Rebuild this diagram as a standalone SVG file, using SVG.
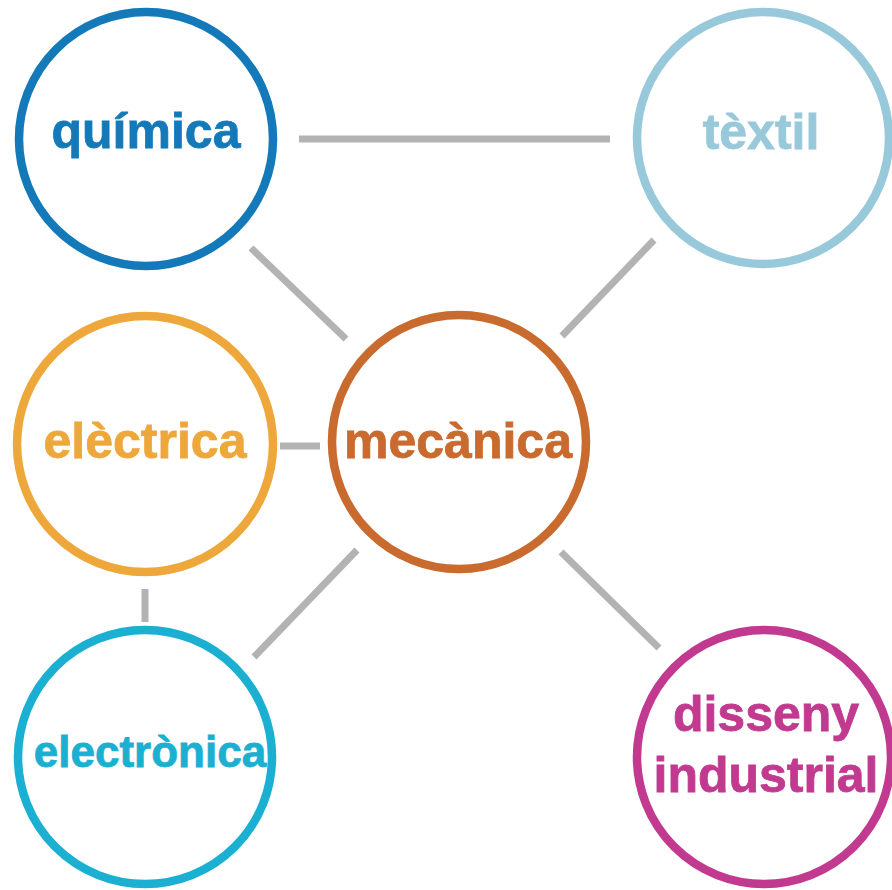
<svg xmlns="http://www.w3.org/2000/svg" width="892" height="890" viewBox="0 0 892 890">
<style>
.ring{fill:#ffffff;stroke-width:8.5}
.lbl{font-family:"Liberation Sans",Arial,sans-serif;font-weight:bold;font-size:50px;text-anchor:middle;stroke-width:0.8}
.conn line{stroke:#b3b3b3;stroke-width:7}
</style>
<rect width="892" height="890" fill="#ffffff"/>
<g id="connectors" class="conn">
<line x1="299" y1="139" x2="610" y2="139"/>
<line x1="251" y1="248" x2="346" y2="339"/>
<line x1="654" y1="240" x2="562" y2="336"/>
<line x1="280" y1="446" x2="320" y2="446"/>
<line x1="145" y1="589" x2="145" y2="622"/>
<line x1="357" y1="550" x2="254" y2="657"/>
<line x1="561" y1="552" x2="659" y2="648"/>
</g>
<g id="quimica">
<circle class="ring" cx="146" cy="139" r="127" stroke="#1479b8"/>
<text class="lbl" x="146" y="148" fill="#1479b8" stroke="#1479b8">química</text>
</g>
<g id="textil">
<circle class="ring" cx="763" cy="138" r="126" stroke="#98c9db"/>
<text class="lbl" x="761" y="149" fill="#98c9db" stroke="#98c9db">tèxtil</text>
</g>
<g id="electrica">
<circle class="ring" cx="145" cy="444" r="128" stroke="#eea73b"/>
<text class="lbl" x="145" y="458" fill="#eea73b" stroke="#eea73b">elèctrica</text>
</g>
<g id="mecanica">
<circle class="ring" cx="459" cy="442" r="127" stroke="#c96a2e"/>
<text class="lbl" x="458" y="458" fill="#c96a2e" stroke="#c96a2e">mecànica</text>
</g>
<g id="electronica">
<circle class="ring" cx="145" cy="757" r="127" stroke="#1bb0d1"/>
<text class="lbl" x="150" y="767" fill="#1bb0d1" stroke="#1bb0d1" style="font-size:44px">electrònica</text>
</g>
<g id="disseny">
<circle class="ring" cx="764" cy="757" r="127" stroke="#c13a8f"/>
<text class="lbl" x="766" y="731" fill="#c13a8f" stroke="#c13a8f">disseny</text>
<text class="lbl" x="766" y="792" fill="#c13a8f" stroke="#c13a8f">industrial</text>
</g>
</svg>
